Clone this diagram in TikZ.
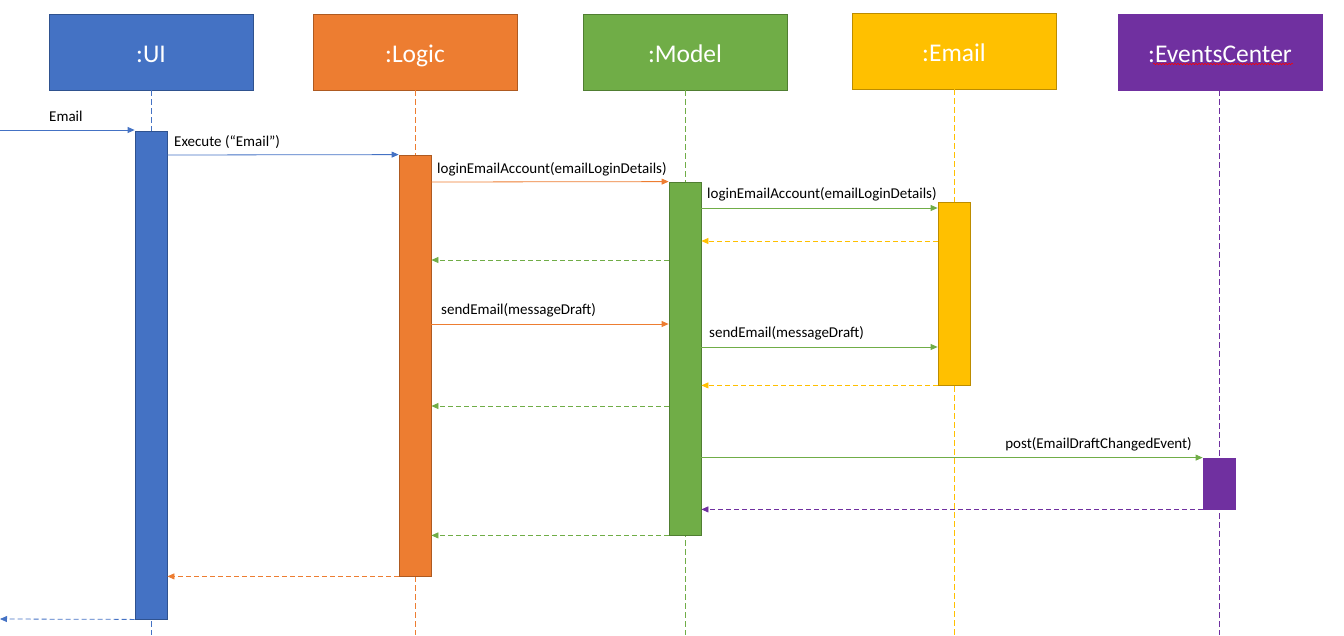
\documentclass[tikz,border=0pt]{standalone}
\usepackage{fontspec}
\setmainfont{Carlito}
\usetikzlibrary{arrows.meta,decorations.pathmorphing}
\definecolor{cblue}{HTML}{4472C4}
\definecolor{cblueD}{HTML}{2F528F}
\definecolor{corange}{HTML}{ED7D31}
\definecolor{corangeD}{HTML}{AE5A21}
\definecolor{cgreen}{HTML}{70AD47}
\definecolor{cgreenD}{HTML}{507E32}
\definecolor{cyellow}{HTML}{FFC000}
\definecolor{cyellowD}{HTML}{BC8C00}
\definecolor{cpurple}{HTML}{7030A0}
\begin{document}
\begin{tikzpicture}[x=1pt,y=-1pt,
  header/.style={draw=#1, line width=0.8pt, minimum width=204pt, minimum height=76pt, inner sep=0pt,
     text=white, font=\fontsize{25.5}{30}\selectfont},
  htext/.style={text=white, font=\fontsize{25.5}{30}\selectfont, inner sep=0pt},
  actbar/.style={draw=#1, line width=0.8pt, minimum width=32pt, inner sep=0pt},
  lifeline/.style={draw=#1, line width=0.6pt, dash pattern=on 6pt off 3pt},
  msg/.style={draw=#1, line width=0.8pt, -{Triangle[length=7pt,width=6pt]}},
  ret/.style={draw=#1, line width=0.8pt, dash pattern=on 5pt off 3pt, -{Triangle[length=7pt,width=6pt]}},
  lbl/.style={font=\fontsize{15}{17}\selectfont, inner sep=0pt}]
\useasboundingbox (0,0) rectangle (1344,635);
% headers
\node[header=cblueD, fill=cblue] (ui) at (151,52) {};
\node[header=corangeD, fill=corange] (logic) at (415,52) {};
\node[header=cgreenD, fill=cgreen] (model) at (685,52) {};
\node[header=cyellowD, fill=cyellow] (email) at (954,51) {};
\node[header=cpurple, fill=cpurple] (events) at (1220,52) {};
\node[htext, anchor=base] (uiT) at (151,62) {:UI};
\node[htext, anchor=base] (logicT) at (415,62) {:Logic};
\node[htext, anchor=base] (modelT) at (685,62) {:Model};
\node[htext, anchor=base] (emailT) at (954,61) {:Email};
\node[htext, anchor=base] (eventsT) at (1220,62) {:EventsCenter};
\draw[red, line width=0.5pt, decorate, decoration={snake, amplitude=0.8pt, segment length=3pt}] (1153,64) -- (1293,64);
% lifelines
\coordinate (uiEnd) at (151,635);
\coordinate (logEnd) at (415,635);
\coordinate (modEnd) at (685,635);
\coordinate (emEnd) at (954,635);
\coordinate (evEnd) at (1219,635);
\draw[lifeline=cblue] (ui.south) -- (uiEnd);
\draw[lifeline=corange] (logic.south) -- (logEnd);
\draw[lifeline=cgreen] (model.south) -- (modEnd);
\draw[lifeline=cyellow] (email.south) -- (emEnd);
\draw[lifeline=cpurple] (events.south -| evEnd) -- (evEnd);
% activation bars
\node[actbar=cblueD, fill=cblue, minimum height=488pt] (uiA) at (151,375) {};
\node[actbar=corangeD, fill=corange, minimum height=421pt] (logA) at (415,365.5) {};
\node[actbar=cgreenD, fill=cgreen, minimum height=353pt] (modA) at (685,358.5) {};
\node[actbar=cyellowD, fill=cyellow, minimum height=183pt] (emA) at (954,293.5) {};
\node[actbar=cpurple, fill=cpurple, minimum height=51pt] (evA) at (1219,483.5) {};
% free ends
\coordinate (inStart) at (0,130);
\coordinate (outEnd) at (0,619);
% messages
\draw[msg=cblue] (inStart) -- (uiA.west |- inStart);
\node[lbl, anchor=base west] at (49,121) {Email};
\draw[msg=cblue] (uiA.east |- 0,155) -- (logA.north west);
\node[lbl, anchor=base west] at (174,146) {Execute (“Email”)};
\draw[msg=corange] (logA.east |- 0,182) -- (modA.north west);
\node[lbl, anchor=base west] at (437,173) {loginEmailAccount(emailLoginDetails)};
\draw[msg=cgreen] (modA.east |- 0,208) -- (emA.west |- 0,208);
\node[lbl, anchor=base west] at (707,198) {loginEmailAccount(emailLoginDetails)};
\draw[ret=cyellow] (emA.west |- 0,241) -- (modA.east |- 0,241);
\draw[ret=cgreen] (modA.west |- 0,260) -- (logA.east |- 0,260);
\draw[msg=corange] (logA.east |- 0,324) -- (modA.west |- 0,324);
\node[lbl, anchor=base west] at (441,314) {sendEmail(messageDraft)};
\draw[msg=cgreen] (modA.east |- 0,347) -- (emA.west |- 0,347);
\node[lbl, anchor=base west] at (709,337) {sendEmail(messageDraft)};
\draw[ret=cyellow] (emA.south west) -- (modA.east |- emA.south west);
\draw[ret=cgreen] (modA.west |- 0,406) -- (logA.east |- 0,406);
\draw[msg=cgreen] (modA.east |- evA.north west) -- (evA.north west);
\node[lbl, anchor=base east] at (1192,448) {post(EmailDraftChangedEvent)};
\draw[ret=cpurple] (evA.south west) -- (modA.east |- evA.south west);
\draw[ret=cgreen] (modA.south west) -- (logA.east |- modA.south west);
\draw[ret=corange] (logA.south west) -- (uiA.east |- logA.south west);
\draw[ret=cblue] (uiA.south west) -- (outEnd);
\end{tikzpicture}
\end{document}
